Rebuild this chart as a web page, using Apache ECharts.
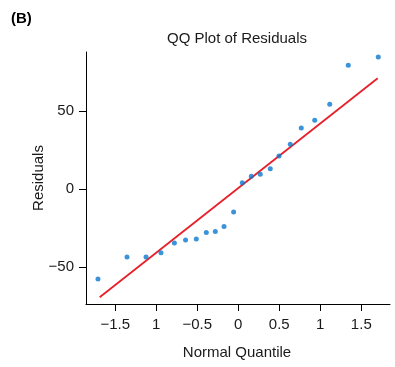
<!DOCTYPE html>
<html>
<head>
<meta charset="utf-8">
<script src="https://cdn.jsdelivr.net/npm/echarts@6/dist/echarts.min.js"></script>
<style>html,body{margin:0;padding:0;background:#fff;}#c{width:395px;height:367px;}</style>
</head>
<body>
<div id="c"></div>
<script>
const quantiles = [-1.711,-1.357,-1.125,-0.943,-0.779,-0.643,-0.512,-0.39,-0.28,-0.174,-0.057,0.049,0.159,0.268,0.39,0.496,0.634,0.768,0.932,1.115,1.341,1.707];
const residuals = [-57.7,-43.6,-43.6,-40.8,-34.6,-32.7,-32.1,-27.8,-27.3,-24.1,-14.7,4.0,8.1,9.4,13.0,21.2,28.6,39.1,44.0,54.3,79.3,84.6];
const refLineX = [-1.69, 1.70];
const refLineY = [-69.4, 71.0];
const xTickValues = [-1.5,-1,-0.5,0,0.5,1,1.5];
const xTickLabels = ["\u22121.5","1","\u22120.5","0","0.5","1","1.5"];
const yTickValues = [-50,0,50];
const yTickLabels = ["\u221250","0","50"];

const font = "'Liberation Sans', Arial, sans-serif";
const chart = echarts.init(document.getElementById('c'), null, {renderer:'canvas'});
chart.setOption({
  animation:false,
  backgroundColor:'#fff',
  graphic:[
    {type:'text', left:11, top:11, style:{text:'(B)', font:'bold 15px '+font, fill:'#000'}},
    {type:'text', x:237, y:39, style:{text:'QQ Plot of Residuals', font:'15px '+font, fill:'#1a1a1a', align:'center', verticalAlign:'middle'}},
    {type:'text', x:237, y:353, style:{text:'Normal Quantile', font:'15px '+font, fill:'#1a1a1a', align:'center', verticalAlign:'middle'}},
    {type:'text', x:39, y:178, rotation:Math.PI/2, style:{text:'Residuals', font:'15px '+font, fill:'#1a1a1a', align:'center', verticalAlign:'middle'}}
  ],
  grid:{left:86, top:52, right:5, bottom:63, containLabel:false},
  xAxis:{
    type:'value', min:-1.857, max:1.85,
    axisLine:{show:true, onZero:false, lineStyle:{color:'#000', width:1}},
    axisTick:{show:true, length:7, inside:false, customValues:xTickValues, lineStyle:{color:'#000'}},
    axisLabel:{customValues:xTickValues, margin:13, color:'#1a1a1a', fontSize:15, fontFamily:font,
      formatter:function(v){const i=xTickValues.findIndex(t=>Math.abs(t-v)<1e-9);return i>=0?xTickLabels[i]:'';}},
    splitLine:{show:false}
  },
  yAxis:{
    type:'value', min:-73.7, max:87.8,
    axisLine:{show:true, onZero:false, lineStyle:{color:'#000', width:1}},
    axisTick:{show:true, length:7, inside:false, customValues:yTickValues, lineStyle:{color:'#000'}},
    axisLabel:{customValues:yTickValues, margin:12, color:'#1a1a1a', fontSize:15, fontFamily:font,
      formatter:function(v){const i=yTickValues.findIndex(t=>Math.abs(t-v)<1e-9);return i>=0?yTickLabels[i]:'';}},
    splitLine:{show:false}
  },
  series:[
    {type:'line', data:refLineX.map((x,i)=>[x,refLineY[i]]), showSymbol:false, symbol:'none',
      lineStyle:{color:'#e8202a', width:1.8}, z:2},
    {type:'scatter', data:quantiles.map((x,i)=>[x,residuals[i]]), symbolSize:5,
      itemStyle:{color:'#0a78d0'}, z:3}
  ]
});
</script>
</body>
</html>
